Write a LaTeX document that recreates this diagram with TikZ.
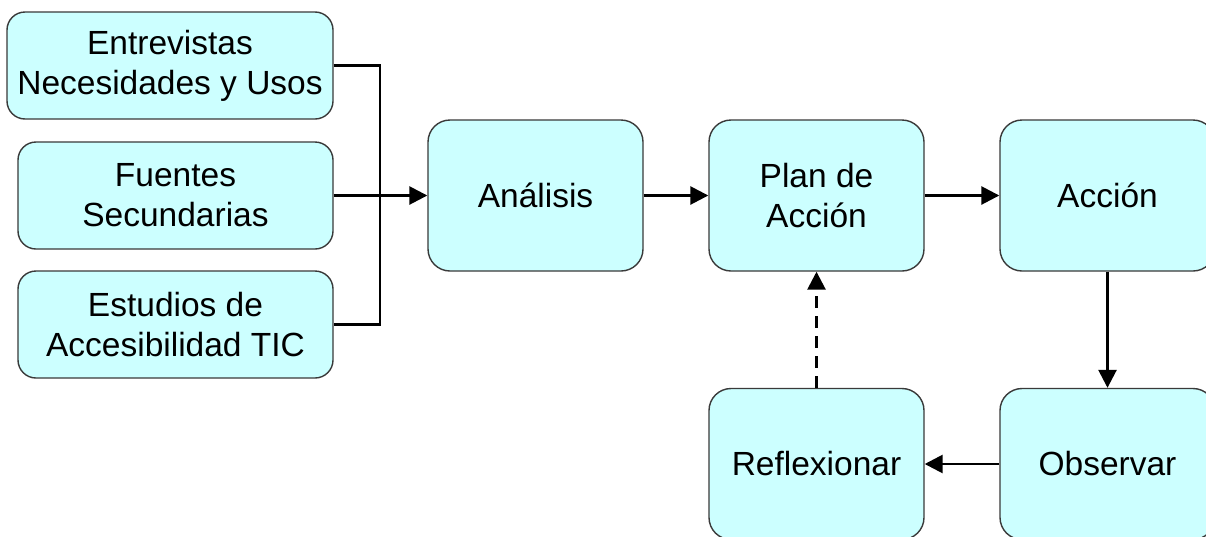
\documentclass[tikz,border=0pt]{standalone}
\usepackage{fontspec}
\setmainfont{Liberation Sans}
\usetikzlibrary{arrows.meta}
\definecolor{boxfill}{HTML}{CCFFFF}
\definecolor{boxline}{HTML}{3A3A3A}
\tikzset{
  paso/.style={draw=boxline, line width=1.4pt, fill=boxfill, rounded corners=22pt,
    minimum width=215pt, minimum height=151pt, inner sep=0pt, align=center,
    font=\fontsize{33.5}{40}\selectfont},
  fuente/.style={paso, rounded corners=18pt, minimum width=315pt, minimum height=107pt},
  enlace/.style={line width=2.7pt},
  flecha/.style={enlace, -{Triangle[length=18pt,width=18pt]}},
}
\begin{document}
\begin{tikzpicture}[x=1pt,y=-1pt]
\clip (0,0) rectangle (1206,536);
\fill[white] (0,0) rectangle (1206,536);
% fuentes de datos
\node[fuente, minimum width=326pt] (ent) at (170,65.5) {Entrevistas\\Necesidades y Usos};
\node[fuente] (fue) at (175.5,195.5) {Fuentes\\Secundarias};
\node[fuente] (est) at (175.5,324.5) {Estudios de\\Accesibilidad TIC};
% ciclo
\node[paso] (ana) at (535.5,195.5) {Análisis};
\node[paso] (plan) at (816.5,195.5) {Plan de\\Acción};
\node[paso] (acc) at (1107.5,195.5) {Acción};
\node[paso] (obs) at (1107.5,464) {Observar};
\node[paso] (ref) at (816.5,464) {Reflexionar};
\coordinate (junta) at (380,195.5);
\draw[enlace] (ent.east) -| (junta) |- (est.east);
\draw[flecha] (fue.east) -- (ana.west);
\draw[flecha] (ana) -- (plan);
\draw[flecha] (plan) -- (acc);
\draw[flecha] (acc) -- (obs);
\draw[flecha] (obs) -- (ref);
\draw[flecha, dash pattern=on 12pt off 8pt] (ref) -- (plan);
\end{tikzpicture}
\end{document}
